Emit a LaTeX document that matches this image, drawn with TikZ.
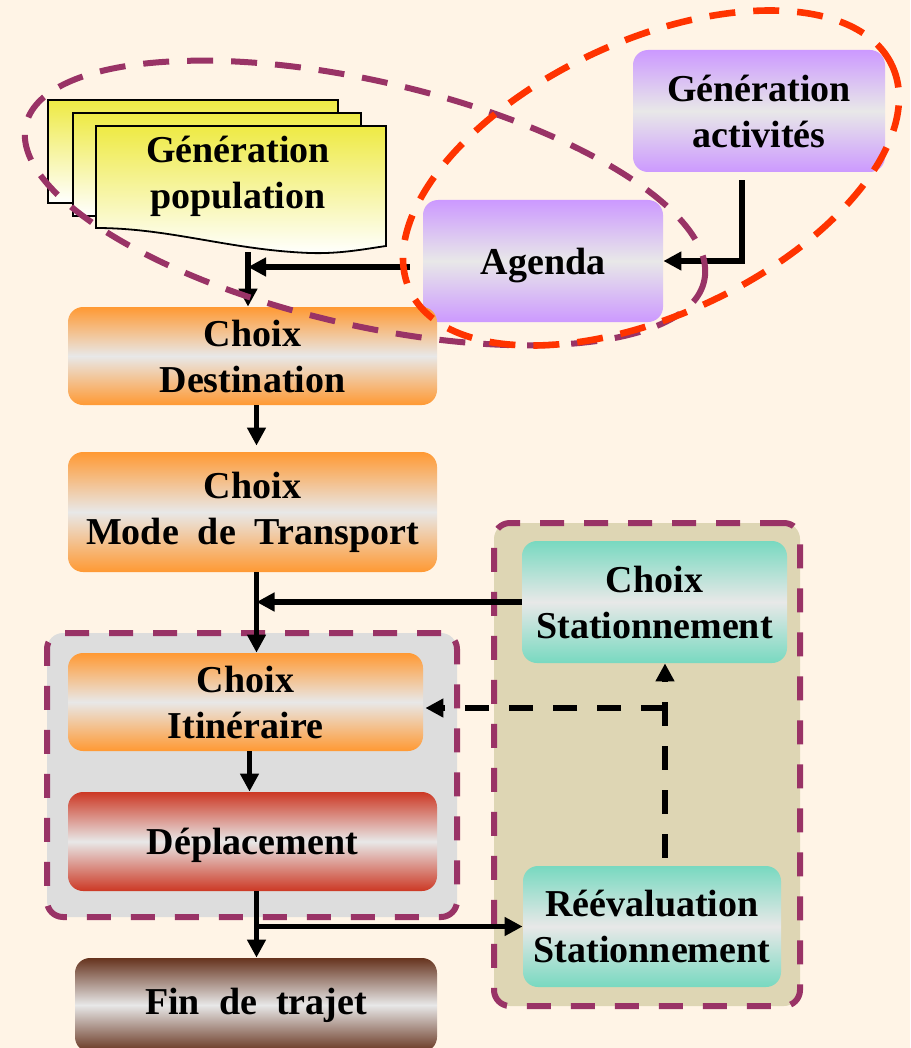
\documentclass[tikz,border=0pt]{standalone}
\usepackage{fontspec}
\setmainfont{Liberation Serif}
\usetikzlibrary{arrows.meta, positioning}
\definecolor{fluxCream}{RGB}{255,244,230}
\definecolor{fluxMaroon}{RGB}{153,51,102}
\definecolor{fluxRed}{RGB}{255,51,0}
\definecolor{fluxOrange}{RGB}{255,153,51}
\definecolor{fluxMid}{RGB}{232,232,232}
\definecolor{fluxPurple}{RGB}{204,153,255}
\definecolor{fluxBrick}{RGB}{204,56,36}
\definecolor{fluxBrown}{RGB}{102,51,30}
\definecolor{fluxTeal}{RGB}{120,217,192}
\definecolor{fluxGray}{RGB}{221,221,221}
\definecolor{fluxSand}{RGB}{222,214,180}
\definecolor{fluxYellow}{RGB}{238,234,68}

\begin{document}
\begin{tikzpicture}[x=0.5pt, y=-0.5pt,
  blk/.style={rectangle, rounded corners=7.5pt, align=center, inner sep=0pt,
              font=\bfseries\fontsize{19}{23}\selectfont},
  grad/.style={top color=#1, bottom color=#1, middle color=fluxMid},
  sheet/.style={draw=black, line width=0.9pt, top color=fluxYellow, bottom color=white},
  zone/.style={draw=fluxMaroon, line width=3pt, dash pattern=on 12pt off 10pt,
               rounded corners=8pt},
  loop/.style={line width=3pt, dash pattern=on 13pt off 9pt},
  arrow/.style={-{Triangle[length=9pt,width=9pt]}, line width=2.6pt},
  darrow/.style={arrow, dash pattern=on 12pt off 10pt},
]
  \useasboundingbox (0,0) rectangle (910,1048);
  \fill[fluxCream] (0,0) rectangle (910,1048);

  \node[zone, fill=fluxGray, minimum width=205pt, minimum height=142pt] (trip) at (252,775) {};
  \node[zone, fill=fluxSand, minimum width=153pt, minimum height=241.5pt] (park) at (647,764.5) {};

  \draw[sheet] (48,100) rectangle (338,203);
  \draw[sheet] (73,113) rectangle (361,216);
  \draw[sheet] (96,126) -- (386,126) -- (386,246)
    .. controls (365,249) and (340,254) .. (310,253)
    .. controls (230,250) and (170,228) .. (96,228) -- cycle;
  \node[blk] (pop) at (238,176) {Génération\\population};
  \coordinate (popb) at (248,252);

  \node[blk, grad=fluxPurple, minimum width=126pt, minimum height=61pt] (act) at (759,111) {Génération\\activités};
  \node[blk, grad=fluxPurple, minimum width=120pt, minimum height=61pt, text depth=0pt] (agenda) at (543,261) {Agenda};

  \node[blk, grad=fluxOrange, minimum width=184.5pt, minimum height=49pt] (dest) at (252.5,356) {Choix\\Destination};
  \node[blk, grad=fluxOrange, minimum width=184.5pt, minimum height=60pt] (mode) at (252.5,512) {Choix\\Mode\ \ de\ \ Transport};
  \node[blk, grad=fluxOrange, minimum width=177.5pt, minimum height=49pt] (itin) at (245.5,702) {Choix\\Itinéraire};
  \node[blk, grad=fluxBrick, minimum width=184.5pt, minimum height=49.5pt, text depth=0pt] (depl) at (252.5,841.5) {Déplacement};
  \node[blk, grad=fluxBrown, minimum width=181pt, minimum height=47pt] (fin) at (256,1005) {Fin\ \ de\ \ trajet};

  \node[blk, grad=fluxTeal, minimum width=132.5pt, minimum height=61pt] (statC) at (654.5,602) {Choix\\Stationnement};
  \node[blk, grad=fluxTeal, minimum width=129pt, minimum height=60.5pt] (reeval) at (652,926.5) {Réévaluation\\Stationnement};

  \draw[arrow] ([xshift=-8.5pt,yshift=-4pt]act.south) |- (agenda.east);
  \coordinate (ag) at ([yshift=-3pt]agenda.west);
  \draw[arrow] ([xshift=-6.5pt]ag) -- (ag -| popb);
  \draw[arrow] (popb) -- (popb |- dest.north);
  \draw[arrow] ([xshift=2pt]dest.south) -- ([xshift=2pt,yshift=3pt]mode.north);
  \coordinate (m1) at ([xshift=2pt]mode.south);
  \draw[arrow] (m1) -- (m1 |- itin.north);
  \draw[arrow] (statC.west) -- (statC.west -| m1);
  \coordinate (i1) at ([xshift=2pt]itin.south);
  \draw[arrow] (i1) -- (i1 |- depl.north);
  \coordinate (d1) at ([xshift=2pt]depl.south);
  \draw[arrow] (d1) -- (d1 |- fin.north);
  \draw[arrow] (d1 |- reeval.west) -- (reeval.west);

  \coordinate (r1) at ([xshift=6.5pt]reeval.north);
  \coordinate (r2) at ([yshift=-3pt]itin.east);
  \draw[darrow] ([yshift=4pt]r1) -- (r1 |- statC.south);
  \draw[darrow] (r1 |- r2) -- ([xshift=1pt]r2);

  \draw[loop, fluxMaroon, rotate around={-13:(365,203)}] (365,203) ellipse [x radius=174pt, y radius=61pt];
  \draw[loop, fluxRed, line width=3.3pt, rotate around={25:(651,178)}] (651,178) ellipse [x radius=133pt, y radius=68.5pt];
\end{tikzpicture}
\end{document}
